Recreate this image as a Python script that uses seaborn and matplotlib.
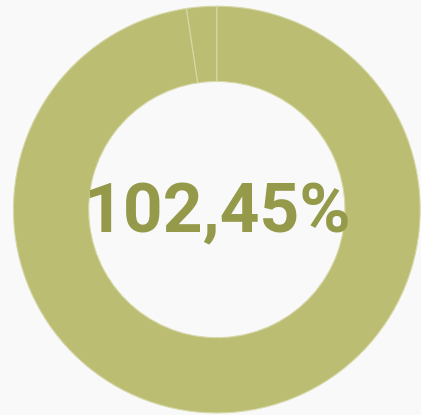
"""Donut gauge showing a completion rate above 100 %."""

import matplotlib

matplotlib.use("Agg")
import matplotlib.pyplot as plt
import seaborn as sns

# share of the target reached, split into the overflow part and the full target
segments = ["overflow", "target"]
values = [2.45, 100.0]
label = "102,45%"

ring_color = "#bbbd72"
text_color = "#949a4a"
background = "#f9f9f9"

sns.set_theme(style="white")
plt.rcParams["font.family"] = ["Roboto", "DejaVu Sans"]

fig = plt.figure(figsize=(4.21, 4.15), dpi=100, facecolor=background)
ax = fig.add_axes([0.03, 0.005, 0.97, 0.98])
ax.set_facecolor(background)

colors = [ring_color] * len(segments)
ax.pie(
    values,
    colors=colors,
    startangle=90,
    counterclock=True,
    radius=1.0,
    wedgeprops=dict(width=0.37, edgecolor="#d6d8a8", linewidth=0.8),
)
ax.text(
    0, -0.02, label,
    ha="center", va="center",
    fontsize=50, fontweight="bold", color=text_color,
)
ax.set_aspect("equal")
ax.set_xlim(-1.0, 1.0)
ax.set_ylim(-1.0, 1.0)
ax.axis("off")

fig.savefig("out.png", dpi=100, facecolor=background)
plt.close(fig)
